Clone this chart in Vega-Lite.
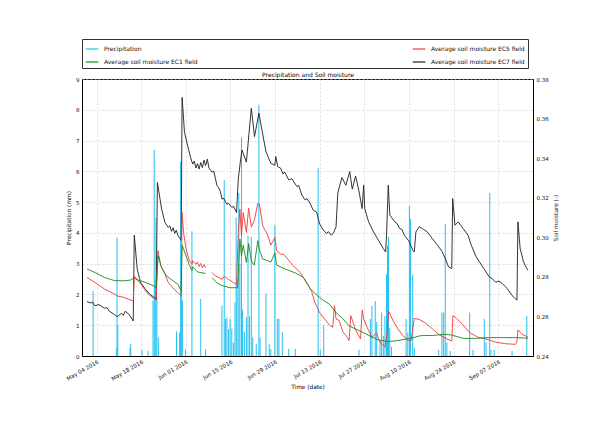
{
"$schema":"https://vega.github.io/schema/vega-lite/v6.json",
"width":451,"height":277,
"autosize":{"type":"none"},
"padding":{"left":82,"top":79,"right":67,"bottom":88},
"background":"white",
"config":{
 "font":"DejaVu Sans",
 "view":{"stroke":"#000","strokeWidth":1},
 "axis":{"labelFont":"DejaVu Sans","titleFont":"DejaVu Sans","labelFontSize":5.5,"titleFontSize":5.8,"titleFontWeight":"normal","labelColor":"#111","titleColor":"#111","domainColor":"#000","tickColor":"#000","gridColor":"#c4c4c4","gridDash":[2,2],"gridWidth":0.6,"ticks":false,"labelPadding":3},
 "legend":{"labelFont":"DejaVu Sans","labelFontSize":6,"labelColor":"#111","title":null}
},
"datasets":{
"precip":[
{"t":"2016-05-02T22:00","p":2.1},{"t":"2016-05-10T05:00","p":0.25},{"t":"2016-05-10T10:00","p":3.85},{"t":"2016-05-10T16:00","p":1.0},
{"t":"2016-05-14T12:00","p":0.25},{"t":"2016-05-14T17:00","p":0.4},{"t":"2016-05-18T06:00","p":0.2},{"t":"2016-05-20T03:00","p":0.16},
{"t":"2016-05-21T17:00","p":1.8},{"t":"2016-05-22T02:00","p":6.7},{"t":"2016-05-22T08:00","p":2.5},{"t":"2016-05-22T15:00","p":4.5},
{"t":"2016-05-22T22:00","p":1.9},{"t":"2016-05-23T09:00","p":0.6},{"t":"2016-05-29T02:00","p":0.8},{"t":"2016-05-30T01:00","p":0.76},
{"t":"2016-05-30T09:00","p":6.31},{"t":"2016-05-30T16:00","p":3.0},{"t":"2016-05-30T22:00","p":1.8},{"t":"2016-05-31T21:00","p":0.2},
{"t":"2016-06-02T22:00","p":4.05},{"t":"2016-06-05T16:00","p":1.85},{"t":"2016-06-07T05:00","p":0.22},{"t":"2016-06-12T08:00","p":1.64},
{"t":"2016-06-13T01:00","p":5.72},{"t":"2016-06-13T10:00","p":1.2},{"t":"2016-06-13T21:00","p":1.26},{"t":"2016-06-14T09:00","p":0.87},
{"t":"2016-06-14T21:00","p":1.21},{"t":"2016-06-15T10:00","p":0.89},{"t":"2016-06-15T22:00","p":0.43},{"t":"2016-06-16T10:00","p":1.75},
{"t":"2016-06-16T19:00","p":4.5},{"t":"2016-06-17T02:00","p":2.55},{"t":"2016-06-17T15:00","p":5.3},{"t":"2016-06-17T23:00","p":3.0},
{"t":"2016-06-18T11:00","p":7.1},{"t":"2016-06-18T18:00","p":1.5},{"t":"2016-06-19T09:00","p":0.8},{"t":"2016-06-20T00:00","p":1.26},
{"t":"2016-06-20T12:00","p":3.9},{"t":"2016-06-21T00:00","p":1.3},{"t":"2016-06-21T13:00","p":3.87},{"t":"2016-06-22T00:00","p":0.6},
{"t":"2016-06-23T02:00","p":0.4},{"t":"2016-06-23T22:00","p":8.16},{"t":"2016-06-24T07:00","p":0.6},{"t":"2016-06-26T03:00","p":2.03},
{"t":"2016-06-27T04:00","p":0.4},{"t":"2016-06-27T16:00","p":0.23},{"t":"2016-06-28T22:00","p":4.25},{"t":"2016-06-29T17:00","p":1.21},
{"t":"2016-06-30T05:00","p":1.21},{"t":"2016-07-01T06:00","p":0.78},{"t":"2016-07-03T07:00","p":0.23},{"t":"2016-07-05T08:00","p":0.23},
{"t":"2016-07-12T12:00","p":6.1},{"t":"2016-07-13T04:00","p":0.2},{"t":"2016-07-14T06:00","p":1.0},{"t":"2016-07-25T07:00","p":0.2},
{"t":"2016-07-28T21:00","p":1.2},{"t":"2016-07-29T09:00","p":1.63},{"t":"2016-07-30T10:00","p":1.79},{"t":"2016-07-30T21:00","p":1.1},
{"t":"2016-07-31T22:00","p":0.5},{"t":"2016-08-01T10:00","p":1.41},{"t":"2016-08-01T23:00","p":0.65},{"t":"2016-08-02T11:00","p":1.3},
{"t":"2016-08-02T23:00","p":2.66},{"t":"2016-08-03T06:00","p":3.58},{"t":"2016-08-03T14:00","p":3.87},{"t":"2016-08-03T23:00","p":0.9},
{"t":"2016-08-04T12:00","p":0.3},{"t":"2016-08-09T02:00","p":1.2},{"t":"2016-08-09T15:00","p":0.76},{"t":"2016-08-10T03:00","p":4.88},
{"t":"2016-08-10T11:00","p":4.45},{"t":"2016-08-11T04:00","p":2.65},{"t":"2016-08-11T16:00","p":0.25},{"t":"2016-08-19T08:00","p":0.2},
{"t":"2016-08-20T08:00","p":1.41},{"t":"2016-08-20T21:00","p":1.41},{"t":"2016-08-21T09:00","p":4.3},{"t":"2016-08-21T21:00","p":0.43},
{"t":"2016-08-22T22:00","p":0.16},{"t":"2016-08-29T01:00","p":1.41},{"t":"2016-08-30T02:00","p":0.2},{"t":"2016-09-02T15:00","p":1.2},
{"t":"2016-09-03T04:00","p":0.45},{"t":"2016-09-04T08:00","p":5.3},{"t":"2016-09-04T17:00","p":0.2},{"t":"2016-09-05T17:00","p":0.2},
{"t":"2016-09-11T08:00","p":0.16},{"t":"2016-09-15T23:00","p":1.3}
],
"soil":[
{"s":"EC7","t":"2016-05-01T00:00","v":0.2675},{"s":"EC7","t":"2016-05-02T06:00","v":0.2668},{"s":"EC7","t":"2016-05-02T18:00","v":0.2672},{"s":"EC7","t":"2016-05-03T11:00","v":0.2654},{"s":"EC7","t":"2016-05-04T18:00","v":0.2660},{"s":"EC7","t":"2016-05-06T12:00","v":0.2641},
{"s":"EC7","t":"2016-05-07T06:00","v":0.2645},{"s":"EC7","t":"2016-05-08T01:00","v":0.2626},{"s":"EC7","t":"2016-05-09T14:00","v":0.2610},{"s":"EC7","t":"2016-05-10T12:00","v":0.2599},
{"s":"EC7","t":"2016-05-11T18:00","v":0.2615},{"s":"EC7","t":"2016-05-12T10:00","v":0.2606},{"s":"EC7","t":"2016-05-12T23:00","v":0.2626},{"s":"EC7","t":"2016-05-14T05:00","v":0.2610},
{"s":"EC7","t":"2016-05-15T12:00","v":0.2577},{"s":"EC7","t":"2016-05-15T20:00","v":0.3011},{"s":"EC7","t":"2016-05-16T18:00","v":0.2839},
{"s":"EC7","t":"2016-05-17T19:00","v":0.2772},{"s":"EC7","t":"2016-05-19T07:00","v":0.2738},{"s":"EC7","t":"2016-05-20T20:00","v":0.2711},
{"s":"EC7","t":"2016-05-22T02:00","v":0.2696},{"s":"EC7","t":"2016-05-22T17:00","v":0.2686},{"s":"EC7","t":"2016-05-23T02:00","v":0.3277},
{"s":"EC7","t":"2016-05-24T10:00","v":0.3142},{"s":"EC7","t":"2016-05-25T11:00","v":0.3075},{"s":"EC7","t":"2016-05-26T11:00","v":0.3050},
{"s":"EC7","t":"2016-05-27T00:00","v":0.3058},{"s":"EC7","t":"2016-05-27T12:00","v":0.3030},{"s":"EC7","t":"2016-05-28T00:00","v":0.3048},{"s":"EC7","t":"2016-05-28T12:00","v":0.3020},{"s":"EC7","t":"2016-05-29T00:00","v":0.3036},{"s":"EC7","t":"2016-05-29T13:00","v":0.3008},{"s":"EC7","t":"2016-05-30T13:00","v":0.2985},
{"s":"EC7","t":"2016-05-30T20:00","v":0.3707},{"s":"EC7","t":"2016-05-31T14:00","v":0.3531},{"s":"EC7","t":"2016-06-01T14:00","v":0.3462},
{"s":"EC7","t":"2016-06-02T15:00","v":0.3396},{"s":"EC7","t":"2016-06-03T04:00","v":0.3370},{"s":"EC7","t":"2016-06-03T16:00","v":0.3385},{"s":"EC7","t":"2016-06-04T04:00","v":0.3350},{"s":"EC7","t":"2016-06-04T16:00","v":0.3372},
{"s":"EC7","t":"2016-06-05T04:00","v":0.3345},{"s":"EC7","t":"2016-06-05T16:00","v":0.3378},{"s":"EC7","t":"2016-06-06T05:00","v":0.3352},{"s":"EC7","t":"2016-06-06T17:00","v":0.3390},{"s":"EC7","t":"2016-06-07T05:00","v":0.3362},{"s":"EC7","t":"2016-06-07T18:00","v":0.3395},{"s":"EC7","t":"2016-06-08T06:00","v":0.3350},{"s":"EC7","t":"2016-06-09T06:00","v":0.3329},
{"s":"EC7","t":"2016-06-09T18:00","v":0.3335},{"s":"EC7","t":"2016-06-10T19:00","v":0.3260},{"s":"EC7","t":"2016-06-11T08:00","v":0.3250},{"s":"EC7","t":"2016-06-11T20:00","v":0.3232},{"s":"EC7","t":"2016-06-12T08:00","v":0.3193},{"s":"EC7","t":"2016-06-12T20:00","v":0.3198},{"s":"EC7","t":"2016-06-13T21:00","v":0.3167},
{"s":"EC7","t":"2016-06-14T10:00","v":0.3172},{"s":"EC7","t":"2016-06-15T10:00","v":0.3151},{"s":"EC7","t":"2016-06-16T00:00","v":0.3156},{"s":"EC7","t":"2016-06-16T22:00","v":0.3125},{"s":"EC7","t":"2016-06-17T11:00","v":0.3294},
{"s":"EC7","t":"2016-06-18T02:00","v":0.3380},{"s":"EC7","t":"2016-06-18T15:00","v":0.3441},{"s":"EC7","t":"2016-06-20T00:00","v":0.3380},
{"s":"EC7","t":"2016-06-21T13:00","v":0.3652},{"s":"EC7","t":"2016-06-22T13:00","v":0.3509},{"s":"EC7","t":"2016-06-23T22:00","v":0.3627},
{"s":"EC7","t":"2016-06-24T14:00","v":0.3568},{"s":"EC7","t":"2016-06-26T03:00","v":0.3433},{"s":"EC7","t":"2016-06-27T16:00","v":0.3374},
{"s":"EC7","t":"2016-06-28T22:00","v":0.3364},{"s":"EC7","t":"2016-06-29T05:00","v":0.3408},{"s":"EC7","t":"2016-06-29T20:00","v":0.3357},
{"s":"EC7","t":"2016-06-30T18:00","v":0.3349},{"s":"EC7","t":"2016-07-01T12:00","v":0.3320},{"s":"EC7","t":"2016-07-02T00:00","v":0.3330},{"s":"EC7","t":"2016-07-03T07:00","v":0.3290},{"s":"EC7","t":"2016-07-04T06:00","v":0.3296},{"s":"EC7","t":"2016-07-05T21:00","v":0.3256},
{"s":"EC7","t":"2016-07-06T10:00","v":0.3262},{"s":"EC7","t":"2016-07-07T09:00","v":0.3214},{"s":"EC7","t":"2016-07-08T10:00","v":0.3189},{"s":"EC7","t":"2016-07-09T00:00","v":0.3195},{"s":"EC7","t":"2016-07-09T23:00","v":0.3172},
{"s":"EC7","t":"2016-07-10T23:00","v":0.3137},{"s":"EC7","t":"2016-07-12T00:00","v":0.3128},{"s":"EC7","t":"2016-07-13T00:00","v":0.3066},
{"s":"EC7","t":"2016-07-14T00:00","v":0.3040},{"s":"EC7","t":"2016-07-15T01:00","v":0.3019},{"s":"EC7","t":"2016-07-15T18:00","v":0.3028},{"s":"EC7","t":"2016-07-16T14:00","v":0.3011},{"s":"EC7","t":"2016-07-17T06:00","v":0.3020},{"s":"EC7","t":"2016-07-18T03:00","v":0.3053},
{"s":"EC7","t":"2016-07-18T16:00","v":0.3224},{"s":"EC7","t":"2016-07-19T23:00","v":0.3302},{"s":"EC7","t":"2016-07-21T05:00","v":0.3263},
{"s":"EC7","t":"2016-07-22T10:00","v":0.3332},{"s":"EC7","t":"2016-07-23T05:00","v":0.3243},{"s":"EC7","t":"2016-07-24T06:00","v":0.3310},
{"s":"EC7","t":"2016-07-25T07:00","v":0.3235},{"s":"EC7","t":"2016-07-26T07:00","v":0.3145},{"s":"EC7","t":"2016-07-26T19:00","v":0.3263},
{"s":"EC7","t":"2016-07-27T03:00","v":0.3145},{"s":"EC7","t":"2016-07-28T08:00","v":0.3078},{"s":"EC7","t":"2016-07-29T21:00","v":0.3027},
{"s":"EC7","t":"2016-07-31T10:00","v":0.2985},{"s":"EC7","t":"2016-08-01T23:00","v":0.2943},{"s":"EC7","t":"2016-08-02T16:00","v":0.2926},
{"s":"EC7","t":"2016-08-02T23:00","v":0.3010},{"s":"EC7","t":"2016-08-03T12:00","v":0.3263},{"s":"EC7","t":"2016-08-04T00:00","v":0.3112},
{"s":"EC7","t":"2016-08-05T13:00","v":0.3078},{"s":"EC7","t":"2016-08-06T06:00","v":0.3070},{"s":"EC7","t":"2016-08-07T02:00","v":0.3044},{"s":"EC7","t":"2016-08-07T18:00","v":0.3040},{"s":"EC7","t":"2016-08-08T14:00","v":0.3010},
{"s":"EC7","t":"2016-08-10T03:00","v":0.2977},{"s":"EC7","t":"2016-08-11T04:00","v":0.2935},{"s":"EC7","t":"2016-08-11T16:00","v":0.2926},
{"s":"EC7","t":"2016-08-12T04:00","v":0.3027},{"s":"EC7","t":"2016-08-13T05:00","v":0.3053},{"s":"EC7","t":"2016-08-14T05:00","v":0.3044},
{"s":"EC7","t":"2016-08-15T18:00","v":0.3027},{"s":"EC7","t":"2016-08-17T07:00","v":0.2994},{"s":"EC7","t":"2016-08-18T20:00","v":0.2963},
{"s":"EC7","t":"2016-08-20T08:00","v":0.2929},{"s":"EC7","t":"2016-08-21T09:00","v":0.2893},{"s":"EC7","t":"2016-08-22T10:00","v":0.2850},
{"s":"EC7","t":"2016-08-23T10:00","v":0.2842},{"s":"EC7","t":"2016-08-23T17:00","v":0.3196},{"s":"EC7","t":"2016-08-24T10:00","v":0.3061},
{"s":"EC7","t":"2016-08-25T11:00","v":0.3078},{"s":"EC7","t":"2016-08-26T06:00","v":0.3060},{"s":"EC7","t":"2016-08-27T00:00","v":0.3044},{"s":"EC7","t":"2016-08-28T13:00","v":0.3010},
{"s":"EC7","t":"2016-08-29T13:00","v":0.2960},{"s":"EC7","t":"2016-08-31T02:00","v":0.2901},{"s":"EC7","t":"2016-09-02T03:00","v":0.2850},
{"s":"EC7","t":"2016-09-04T04:00","v":0.2800},{"s":"EC7","t":"2016-09-05T04:00","v":0.2790},{"s":"EC7","t":"2016-09-06T05:00","v":0.2773},{"s":"EC7","t":"2016-09-07T06:00","v":0.2778},{"s":"EC7","t":"2016-09-08T07:00","v":0.2766},
{"s":"EC7","t":"2016-09-09T19:00","v":0.2741},{"s":"EC7","t":"2016-09-11T08:00","v":0.2706},{"s":"EC7","t":"2016-09-12T21:00","v":0.2682},
{"s":"EC7","t":"2016-09-13T04:00","v":0.3078},{"s":"EC7","t":"2016-09-13T21:00","v":0.2943},{"s":"EC7","t":"2016-09-14T22:00","v":0.2876},
{"s":"EC7","t":"2016-09-15T23:00","v":0.2842},{"s":"EC7","t":"2016-09-16T08:00","v":0.2834},

{"s":"EC5","t":"2016-05-01T00:00","v":0.2797},{"s":"EC5","t":"2016-05-03T11:00","v":0.2772},{"s":"EC5","t":"2016-05-06T12:00","v":0.2738},
{"s":"EC5","t":"2016-05-09T14:00","v":0.2713},{"s":"EC5","t":"2016-05-10T14:00","v":0.2703},{"s":"EC5","t":"2016-05-12T16:00","v":0.2696},
{"s":"EC5","t":"2016-05-15T12:00","v":0.2678},{"s":"EC5","t":"2016-05-15T20:00","v":0.2804},{"s":"EC5","t":"2016-05-16T18:00","v":0.2787},
{"s":"EC5","t":"2016-05-18T06:00","v":0.2755},{"s":"EC5","t":"2016-05-19T19:00","v":0.2720},{"s":"EC5","t":"2016-05-21T21:00","v":0.2691},
{"s":"EC5","t":"2016-05-22T17:00","v":0.2686},{"s":"EC5","t":"2016-05-23T06:00","v":0.2932},{"s":"EC5","t":"2016-05-24T04:00","v":0.2856},
{"s":"EC5","t":"2016-05-25T11:00","v":0.2814},{"s":"EC5","t":"2016-05-26T11:00","v":0.2773},{"s":"EC5","t":"2016-05-28T12:00","v":0.2734},
{"s":"EC5","t":"2016-05-29T13:00","v":0.2720},{"s":"EC5","t":"2016-05-30T13:00","v":0.2703},{"s":"EC5","t":"2016-05-30T20:00","v":0.3125},
{"s":"EC5","t":"2016-05-31T07:00","v":0.3024},{"s":"EC5","t":"2016-06-01T02:00","v":0.2940},{"s":"EC5","t":"2016-06-02T03:00","v":0.2881},
{"s":"EC5","t":"2016-06-02T22:00","v":0.2864},{"s":"EC5","t":"2016-06-03T03:00","v":0.2882},{"s":"EC5","t":"2016-06-04T03:00","v":0.2864},
{"s":"EC5","t":"2016-06-04T15:00","v":0.2875},{"s":"EC5","t":"2016-06-05T04:00","v":0.2852},{"s":"EC5","t":"2016-06-05T16:00","v":0.2868},{"s":"EC5","t":"2016-06-06T05:00","v":0.2846},{"s":"EC5","t":"2016-06-06T17:00","v":0.2862},{"s":"EC5","t":"2016-06-07T05:00","v":0.2846},{"s":"EC5","t":"2016-06-08T06:00","v":null},
{"s":"EC5","t":"2016-06-09T06:00","v":0.2822},{"s":"EC5","t":"2016-06-10T07:00","v":0.2804},{"s":"EC5","t":"2016-06-11T08:00","v":0.2797},
{"s":"EC5","t":"2016-06-12T08:00","v":0.2787},{"s":"EC5","t":"2016-06-13T02:00","v":0.2804},{"s":"EC5","t":"2016-06-14T09:00","v":0.2787},
{"s":"EC5","t":"2016-06-15T22:00","v":0.2772},{"s":"EC5","t":"2016-06-16T22:00","v":0.2762},{"s":"EC5","t":"2016-06-17T11:00","v":0.3024},
{"s":"EC5","t":"2016-06-17T23:00","v":0.3142},{"s":"EC5","t":"2016-06-18T11:00","v":0.3007},{"s":"EC5","t":"2016-06-19T00:00","v":0.3125},
{"s":"EC5","t":"2016-06-20T00:00","v":0.3024},{"s":"EC5","t":"2016-06-20T17:00","v":0.3147},{"s":"EC5","t":"2016-06-21T13:00","v":0.3053},
{"s":"EC5","t":"2016-06-22T11:00","v":0.3084},{"s":"EC5","t":"2016-06-23T14:00","v":0.3172},{"s":"EC5","t":"2016-06-24T02:00","v":0.3167},
{"s":"EC5","t":"2016-06-25T03:00","v":0.3058},{"s":"EC5","t":"2016-06-26T16:00","v":0.3011},{"s":"EC5","t":"2016-06-27T16:00","v":0.2960},
{"s":"EC5","t":"2016-06-28T22:00","v":0.2999},{"s":"EC5","t":"2016-06-29T12:00","v":0.2932},{"s":"EC5","t":"2016-06-30T18:00","v":0.2915},
{"s":"EC5","t":"2016-07-01T18:00","v":0.2913},{"s":"EC5","t":"2016-07-03T19:00","v":0.2873},{"s":"EC5","t":"2016-07-05T08:00","v":0.2846},
{"s":"EC5","t":"2016-07-06T21:00","v":0.2822},{"s":"EC5","t":"2016-07-07T21:00","v":0.2797},{"s":"EC5","t":"2016-07-09T10:00","v":0.2758},
{"s":"EC5","t":"2016-07-10T11:00","v":0.2727},{"s":"EC5","t":"2016-07-11T11:00","v":0.2672},{"s":"EC5","t":"2016-07-13T00:00","v":0.2618},
{"s":"EC5","t":"2016-07-14T13:00","v":0.2587},{"s":"EC5","t":"2016-07-16T02:00","v":0.2556},{"s":"EC5","t":"2016-07-17T02:00","v":0.2545},
{"s":"EC5","t":"2016-07-17T15:00","v":0.2654},{"s":"EC5","t":"2016-07-18T03:00","v":0.2587},{"s":"EC5","t":"2016-07-19T03:00","v":0.2579},
{"s":"EC5","t":"2016-07-20T04:00","v":0.2524},{"s":"EC5","t":"2016-07-21T09:00","v":0.2501},{"s":"EC5","t":"2016-07-22T05:00","v":0.2478},
{"s":"EC5","t":"2016-07-22T18:00","v":0.2604},{"s":"EC5","t":"2016-07-24T06:00","v":0.2532},{"s":"EC5","t":"2016-07-25T19:00","v":0.2486},
{"s":"EC5","t":"2016-07-26T08:00","v":0.2633},{"s":"EC5","t":"2016-07-26T19:00","v":0.2587},{"s":"EC5","t":"2016-07-27T20:00","v":0.2546},
{"s":"EC5","t":"2016-07-29T09:00","v":0.2493},{"s":"EC5","t":"2016-07-30T19:00","v":0.2517},{"s":"EC5","t":"2016-07-31T22:00","v":0.2470},
{"s":"EC5","t":"2016-08-01T23:00","v":0.2454},{"s":"EC5","t":"2016-08-02T11:00","v":0.2444},{"s":"EC5","t":"2016-08-03T04:00","v":0.2524},
{"s":"EC5","t":"2016-08-03T15:00","v":0.2626},{"s":"EC5","t":"2016-08-05T00:00","v":0.2579},{"s":"EC5","t":"2016-08-06T13:00","v":0.2537},
{"s":"EC5","t":"2016-08-08T02:00","v":0.2503},{"s":"EC5","t":"2016-08-09T15:00","v":0.2481},{"s":"EC5","t":"2016-08-10T15:00","v":0.2476},
{"s":"EC5","t":"2016-08-11T16:00","v":0.2590},{"s":"EC5","t":"2016-08-13T05:00","v":0.2585},{"s":"EC5","t":"2016-08-14T18:00","v":0.2571},
{"s":"EC5","t":"2016-08-16T06:00","v":0.2552},{"s":"EC5","t":"2016-08-17T19:00","v":0.2531},{"s":"EC5","t":"2016-08-19T08:00","v":0.2509},
{"s":"EC5","t":"2016-08-21T21:00","v":0.2486},{"s":"EC5","t":"2016-08-23T10:00","v":0.2476},{"s":"EC5","t":"2016-08-23T19:00","v":0.2604},
{"s":"EC5","t":"2016-08-24T23:00","v":0.2590},{"s":"EC5","t":"2016-08-27T00:00","v":0.2556},{"s":"EC5","t":"2016-08-29T01:00","v":0.2518},
{"s":"EC5","t":"2016-08-31T15:00","v":0.2495},{"s":"EC5","t":"2016-09-03T04:00","v":0.2486},{"s":"EC5","t":"2016-09-06T05:00","v":0.2470},
{"s":"EC5","t":"2016-09-09T07:00","v":0.2462},{"s":"EC5","t":"2016-09-12T09:00","v":0.2459},{"s":"EC5","t":"2016-09-12T20:00","v":0.2470},
{"s":"EC5","t":"2016-09-13T04:00","v":0.2532},{"s":"EC5","t":"2016-09-14T10:00","v":0.2510},{"s":"EC5","t":"2016-09-16T08:00","v":0.2496},

{"s":"EC1","t":"2016-05-01T00:00","v":0.2840},{"s":"EC1","t":"2016-05-03T11:00","v":0.2822},{"s":"EC1","t":"2016-05-06T12:00","v":0.2797},
{"s":"EC1","t":"2016-05-09T14:00","v":0.2781},{"s":"EC1","t":"2016-05-12T16:00","v":0.2780},{"s":"EC1","t":"2016-05-14T17:00","v":0.2784},
{"s":"EC1","t":"2016-05-15T20:00","v":0.2797},{"s":"EC1","t":"2016-05-16T08:00","v":0.2787},{"s":"EC1","t":"2016-05-19T07:00","v":0.2772},
{"s":"EC1","t":"2016-05-21T21:00","v":0.2755},{"s":"EC1","t":"2016-05-22T17:00","v":0.2745},{"s":"EC1","t":"2016-05-23T07:00","v":0.2906},
{"s":"EC1","t":"2016-05-24T10:00","v":0.2845},{"s":"EC1","t":"2016-05-25T23:00","v":0.2804},{"s":"EC1","t":"2016-05-28T00:00","v":0.2780},
{"s":"EC1","t":"2016-05-29T13:00","v":0.2762},{"s":"EC1","t":"2016-05-30T13:00","v":0.2727},{"s":"EC1","t":"2016-05-30T20:00","v":0.2960},
{"s":"EC1","t":"2016-06-01T02:00","v":0.2906},{"s":"EC1","t":"2016-06-02T03:00","v":0.2859},{"s":"EC1","t":"2016-06-02T22:00","v":0.2832},
{"s":"EC1","t":"2016-06-03T03:00","v":0.2851},{"s":"EC1","t":"2016-06-04T16:00","v":0.2825},{"s":"EC1","t":"2016-06-07T05:00","v":0.2817},
{"s":"EC1","t":"2016-06-08T06:00","v":null},
{"s":"EC1","t":"2016-06-09T06:00","v":0.2795},{"s":"EC1","t":"2016-06-10T19:00","v":0.2769},{"s":"EC1","t":"2016-06-12T08:00","v":0.2756},
{"s":"EC1","t":"2016-06-14T21:00","v":0.2745},{"s":"EC1","t":"2016-06-17T06:00","v":0.2745},{"s":"EC1","t":"2016-06-17T23:00","v":0.2991},
{"s":"EC1","t":"2016-06-18T11:00","v":0.2906},{"s":"EC1","t":"2016-06-19T00:00","v":0.2960},{"s":"EC1","t":"2016-06-20T00:00","v":0.2873},
{"s":"EC1","t":"2016-06-20T17:00","v":0.2968},{"s":"EC1","t":"2016-06-21T13:00","v":0.2882},{"s":"EC1","t":"2016-06-22T11:00","v":0.2859},
{"s":"EC1","t":"2016-06-23T14:00","v":0.2983},{"s":"EC1","t":"2016-06-24T02:00","v":0.2937},{"s":"EC1","t":"2016-06-25T03:00","v":0.2890},
{"s":"EC1","t":"2016-06-26T16:00","v":0.2882},{"s":"EC1","t":"2016-06-27T16:00","v":0.2874},{"s":"EC1","t":"2016-06-28T22:00","v":0.2921},
{"s":"EC1","t":"2016-06-29T12:00","v":0.2859},{"s":"EC1","t":"2016-07-02T06:00","v":0.2839},{"s":"EC1","t":"2016-07-05T08:00","v":0.2820},
{"s":"EC1","t":"2016-07-07T21:00","v":0.2797},{"s":"EC1","t":"2016-07-09T23:00","v":0.2742},{"s":"EC1","t":"2016-07-12T00:00","v":0.2708},
{"s":"EC1","t":"2016-07-14T00:00","v":0.2683},{"s":"EC1","t":"2016-07-16T02:00","v":0.2661},{"s":"EC1","t":"2016-07-18T03:00","v":0.2619},
{"s":"EC1","t":"2016-07-20T04:00","v":0.2590},{"s":"EC1","t":"2016-07-22T05:00","v":0.2552},{"s":"EC1","t":"2016-07-23T18:00","v":0.2540},
{"s":"EC1","t":"2016-07-26T07:00","v":0.2521},{"s":"EC1","t":"2016-07-29T09:00","v":0.2496},{"s":"EC1","t":"2016-07-31T10:00","v":0.2481},
{"s":"EC1","t":"2016-08-03T12:00","v":0.2473},{"s":"EC1","t":"2016-08-06T13:00","v":0.2478},{"s":"EC1","t":"2016-08-10T15:00","v":0.2490},
{"s":"EC1","t":"2016-08-13T17:00","v":0.2503},{"s":"EC1","t":"2016-08-17T19:00","v":0.2504},{"s":"EC1","t":"2016-08-20T21:00","v":0.2510},
{"s":"EC1","t":"2016-08-23T10:00","v":0.2506},{"s":"EC1","t":"2016-08-27T00:00","v":0.2489},{"s":"EC1","t":"2016-08-31T02:00","v":0.2489},
{"s":"EC1","t":"2016-09-04T04:00","v":0.2493},{"s":"EC1","t":"2016-09-08T07:00","v":0.2493},{"s":"EC1","t":"2016-09-12T09:00","v":0.2493},
{"s":"EC1","t":"2016-09-16T08:00","v":0.2490}
]
},
"layer":[
{
 "data":{"name":"precip"},
 "mark":{"type":"bar","size":1},
 "encoding":{
  "x":{"field":"t","type":"temporal",
   "scale":{"domain":[{"year":2016,"month":5,"date":1},{"year":2016,"month":9,"date":16,"hours":8}]},
   "axis":{"orient":"bottom","title":"Time (date)","titleColor":"#000","format":"%b %d %Y","labelAngle":-30,"labelAlign":"right","labelBaseline":"top","grid":true,"titlePadding":2,
    "values":[{"year":2016,"month":5,"date":4},{"year":2016,"month":5,"date":18},{"year":2016,"month":6,"date":1},{"year":2016,"month":6,"date":15},{"year":2016,"month":6,"date":29},{"year":2016,"month":7,"date":13},{"year":2016,"month":7,"date":27},{"year":2016,"month":8,"date":10},{"year":2016,"month":8,"date":24},{"year":2016,"month":9,"date":7}]}},
  "y":{"field":"p","type":"quantitative","scale":{"domain":[0,9]},
   "axis":{"orient":"left","title":"Precipitation (mm)","values":[0,1,2,3,4,5,6,7,8,9],"grid":true,"titlePadding":4}},
  "color":{"datum":"P","type":"nominal","title":null,
   "scale":{"domain":["P","EC5","EC1","EC7"],"range":["#22c0f0","#f03a3a","#1b8a1b","#1e1e1e"]},
   "legend":{"orient":"top","direction":"horizontal","columns":2,"columnPadding":212,"rowPadding":3,"symbolType":"stroke","symbolSize":160,"symbolStrokeWidth":1.2,"labelOffset":5,"strokeColor":"#333","padding":3,"offset":3,"title":null,"labelLimit":300,
    "labelExpr":"datum.label == 'P' ? 'Precipitation' : 'Average soil moisture ' + datum.label + ' field'"}}
 }
},
{
 "data":{"name":"soil"},
 "mark":{"type":"line","strokeWidth":0.9,"invalid":"break-paths-show-domains"},
 "encoding":{
  "x":{"field":"t","type":"temporal",
   "axis":{"orient":"top","title":"Precipitation and Soil moisture","titleColor":"#000","labels":false,"grid":false,"domain":false,"titlePadding":2,"titleFontSize":6}},
  "y":{"field":"v","type":"quantitative","scale":{"domain":[0.24,0.38]},
   "axis":{"orient":"right","title":"Soil moisture (-)","titleAngle":270,"titleBaseline":"top","values":[0.24,0.26,0.28,0.30,0.32,0.34,0.36,0.38],"format":".2f","grid":false,"titlePadding":4}},
  "color":{"field":"s","type":"nominal","title":null}
 }
}
],
"resolve":{"scale":{"y":"independent"}}
}
